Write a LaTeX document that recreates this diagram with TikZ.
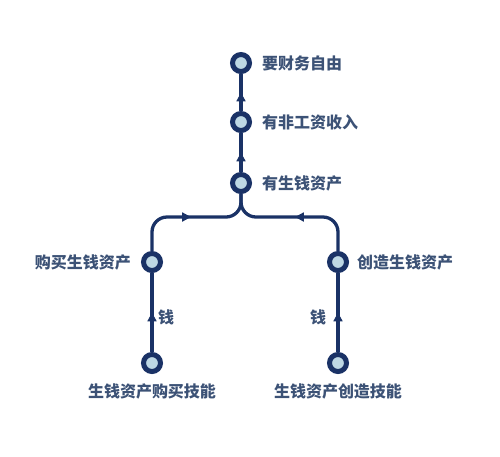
\documentclass[tikz,border=0pt]{standalone}
\usepackage{fontspec}
\newfontfamily\cjk{Noto Sans CJK SC}
\usetikzlibrary{positioning,arrows.meta,decorations.markings}
\definecolor{metro}{RGB}{26,50,102}
\definecolor{stopfill}{RGB}{190,216,228}
\definecolor{labeltext}{RGB}{60,82,118}
\begin{document}
\begin{tikzpicture}[
			x=0.2mm, y=-0.2mm,
			stop/.style={circle, draw=metro, fill=stopfill, line width=0.1cm, minimum size=0.34cm, inner sep=0pt},
			tag/.style={font=\cjk\bfseries\fontsize{9.1}{11}\selectfont, text=labeltext, inner sep=1pt},
			track/.style={color=metro, line width=0.066cm, postaction={decorate},
					decoration={markings, mark=at position 0.5 with {\arrow{Triangle[width=5pt,length=5pt]}}}}
		]
		\useasboundingbox (0,0) rectangle (500,456);

		% stations
		\coordinate (fork) at (241,217);
		\node[stop] (free) at (241,63) {};
		\node[stop] (income) at (241,122) {};
		\node[stop] (asset) at (241,183) {};
		\node[stop] (buy) at (152,262) {};
		\node[stop] (create) at (338,262) {};
		\node[stop] (skillbuy) at (152,363) {};
		\node[stop] (skillmake) at (338,363) {};

		% tracks
		\draw[track] (skillbuy) -- (buy);
		\draw[track] (skillmake) -- (create);
		\draw[track, rounded corners=3mm] (buy) |- (fork) -- (asset);
		\draw[track, rounded corners=3mm] (create) |- (fork) -- (asset);
		\draw[track] (asset) -- (income);
		\draw[track] (income) -- (free);

		% labels
		\node[tag, right=1.6mm of free] (freetxt) {要财务自由};
		\node[tag, right=1.6mm of income] (incometxt) {有非工资收入};
		\node[tag, right=1.6mm of asset] (assettxt) {有生钱资产};
		\node[tag, left=1.6mm of buy] (buytxt) {购买生钱资产};
		\node[tag, right=1.2mm of create] (createtxt) {创造生钱资产};
		\node[tag, below=1.6mm of skillbuy] (skillbuytxt) {生钱资产购买技能};
		\node[tag, below=1.6mm of skillmake] (skillmaketxt) {生钱资产创造技能};
		\node[tag] (moneybuy) at (166,317) {钱};
		\node[tag] (moneymake) at (318,317) {钱};
	\end{tikzpicture}
\end{document}
